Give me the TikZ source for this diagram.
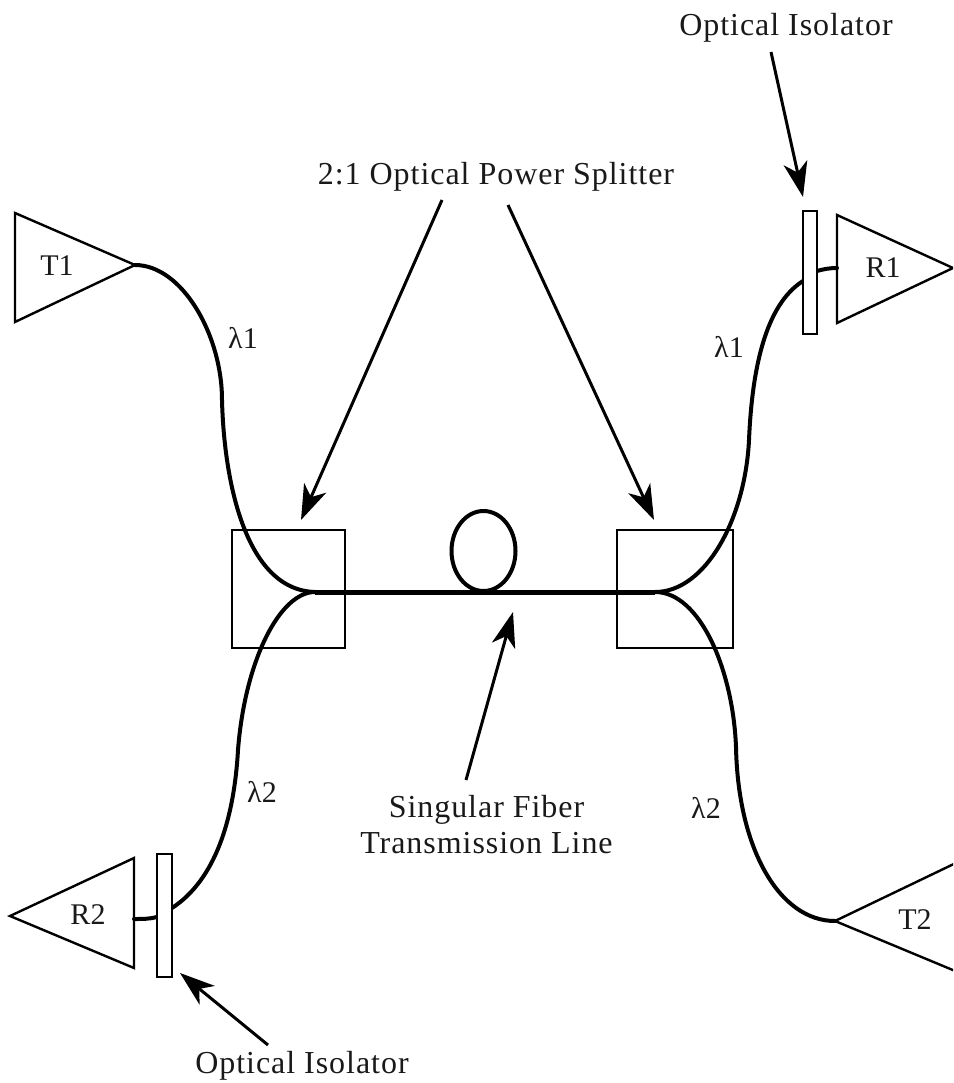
\documentclass[tikz,border=0pt]{standalone}
\usepackage{fontspec}
\setmainfont{Liberation Serif}
\newfontfamily\spacedserif[LetterSpace=3]{Liberation Serif}
\usetikzlibrary{arrows.meta}
\tikzset{
  fiber/.style={line width=4pt,line cap=round,black},
  trunk/.style={line width=5pt,black},
  splitbox/.style={draw,line width=2pt,inner sep=0pt,minimum width=#1,minimum height=118pt},
  isobox/.style={draw,line width=2pt,inner sep=0pt,minimum width=14.5pt,minimum height=#1,fill=white},
  amp/.style={draw,line width=2.4pt,line join=miter},
  pointer/.style={line width=3pt,-{Stealth[length=35pt,width=24pt,inset=10pt]}},
  shortlbl/.style={inner sep=0pt,font=\fontsize{30}{36}\selectfont,text=black!90},
  longlbl/.style={inner sep=0pt,font=\spacedserif\fontsize{32}{36}\selectfont,align=center,text=black!90}
}
\begin{document}
\begin{tikzpicture}[x=1pt,y=-1pt]
\useasboundingbox (0,0) rectangle (953,1083);
\clip (0,0) rectangle (953,1083);
% coordinates
\coordinate (t1tip) at (135,265);
\coordinate (r1in) at (837,268);
\coordinate (r2in) at (134,919);
\coordinate (t2tip) at (835,921);
\coordinate (jl) at (315,592);
\coordinate (jr) at (655,592);
\coordinate (loopc) at (483.5,551);
% amplifiers
\draw[amp] (15,213) -- (t1tip) -- (15,322) -- cycle;
\draw[amp] (r1in |- 0,215) -- (953,268) -- (r1in |- 0,323) -- cycle;
\draw[amp] (10,916) -- (134,858) -- (134,968) -- cycle;
\draw[amp] (t2tip) -- (960,861) -- (960,973) -- cycle;
% splitters
\node[splitbox=113pt] (sl) at (288.5,589) {};
\node[splitbox=116pt] (sr) at (675,589) {};
% fibers
\draw[fiber] (t1tip) .. controls (182,265) and (222,335) .. (222,400)
  .. controls (224,480) and (245,590) .. (jl);
\draw[trunk] (jl) -- (jr);
\draw[line width=4pt] (loopc) ellipse [x radius=32pt,y radius=40pt];
\draw[fiber] (jr) .. controls (705,592) and (745,520) .. (749,440)
  .. controls (752,370) and (765,305) .. (803,281);
\draw[fiber] (817,271) .. controls (824,269) and (830,268) .. (r1in);
\draw[fiber] (jl) .. controls (280,592) and (245,660) .. (238,750)
  .. controls (234,820) and (215,880) .. (172,908);
\draw[fiber] (157,917) .. controls (150,919) and (142,919) .. (r2in);
\draw[fiber] (jr) .. controls (700,592) and (733,670) .. (736,747)
  .. controls (738,850) and (780,921) .. (t2tip);
% isolators
\node[isobox=123pt] (isoa) at (810,272.5) {};
\node[isobox=123pt] (isob) at (164.5,915.5) {};
% labels
\node[shortlbl] (tT1) at (57,266) {T1};
\node[shortlbl] (tR1) at (883,268) {R1};
\node[shortlbl] (tR2) at (88,915) {R2};
\node[shortlbl] (tT2) at (915,920) {T2};
\node[shortlbl] (l1a) at (243,338) {λ1};
\node[shortlbl] (l1b) at (729,347) {λ1};
\node[shortlbl] (l2a) at (262,792) {λ2};
\node[shortlbl] (l2b) at (706,808) {λ2};
\node[longlbl] (oia) at (786,28) {Optical Isolator};
\node[longlbl] (oib) at (302,1066) {Optical Isolator};
\node[longlbl] (ps) at (496,177) {2:1 Optical Power Splitter};
\node[longlbl] (sf) at (486.5,825) {Singular Fiber\\Transmission Line};
% pointers
\coordinate (pa) at (803,197);
\coordinate (pb) at (180,973);
\coordinate (pc) at (301,520);
\coordinate (pd) at (654,520);
\coordinate (pe) at (513,612);
\coordinate (qa) at (771,52);
\coordinate (qb) at (268,1045);
\coordinate (qc) at (442,200);
\coordinate (qd) at (508,205);
\coordinate (qe) at (466,780);
\draw[pointer] (qa) -- (pa);
\draw[pointer] (qb) -- (pb);
\draw[pointer] (qc) -- (pc);
\draw[pointer] (qd) -- (pd);
\draw[pointer] (qe) -- (pe);
\end{tikzpicture}
\end{document}
